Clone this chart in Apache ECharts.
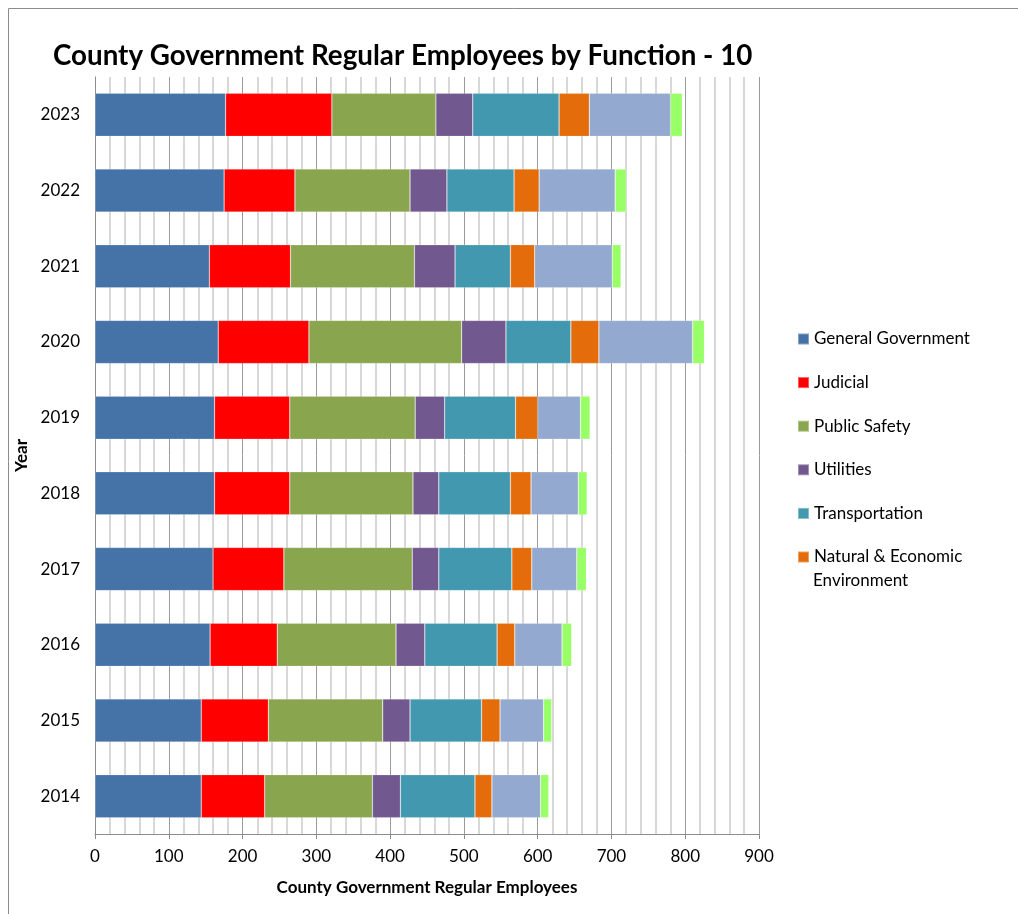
<!DOCTYPE html>
<html>
<head>
<meta charset="utf-8">
<script src="https://cdn.jsdelivr.net/npm/echarts@6/dist/echarts.min.js"></script>
<style>
  html, body { margin: 0; padding: 0; background: #ffffff; }
  #chart { width: 1018px; height: 914px; }
</style>
</head>
<body>
<div id="chart"></div>
<script>
// Regular employees per county function, 2014-2023
const years = ['2014', '2015', '2016', '2017', '2018', '2019', '2020', '2021', '2022', '2023'];

const generalGovernment = [144, 144, 156, 160, 162, 162, 167, 155, 175, 177];
const judicial          = [ 86,  91,  91,  96, 102, 102, 123, 110,  96, 144];
const publicSafety      = [146, 155, 161, 174, 167, 170, 207, 168, 156, 141];
const utilities         = [ 38,  37,  39,  36,  35,  40,  60,  55,  50,  50];
const transportation    = [101,  97,  98,  99,  97,  96,  88,  75,  91, 117];
const naturalEconomic   = [ 23,  25,  24,  27,  28,  30,  38,  33,  34,  41];
const cultureRecreation = [ 66,  59,  64,  61,  64,  58, 127, 105, 103, 110];
const humanServices     = [ 11,  11,  13,  13,  12,  13,  16,  12,  15,  16];

const xTicks = [0, 100, 200, 300, 400, 500, 600, 700, 800, 900];

const seriesDefs = [
  { name: 'General Government', data: generalGovernment, color: '#4572A7' },
  { name: 'Judicial', data: judicial, color: '#FF0000' },
  { name: 'Public Safety', data: publicSafety, color: '#89A54E' },
  { name: 'Utilities', data: utilities, color: '#71588F' },
  { name: 'Transportation', data: transportation, color: '#4198AF' },
  { name: 'Natural & Economic Environment', data: naturalEconomic, color: '#E46C0A' },
  { name: 'Culture & Recreation', data: cultureRecreation, color: '#93A9CF' },
  { name: 'Human Services', data: humanServices, color: '#99FF66' }
];

const FONT = 'Lato, "Open Sans", sans-serif';
const WRAPPED = 'Natural & Economic Environment';

const chart = echarts.init(document.getElementById('chart'), null, { renderer: 'canvas' });

chart.setOption({
  backgroundColor: '#ffffff',
  animation: false,
  title: {
    text: 'County Government Regular Employees by Function - 10',
    left: 48,
    top: 37,
    textStyle: { fontFamily: FONT, fontSize: 27.75, fontWeight: 'bold', color: '#000000' }
  },
  graphic: [
    { type: 'line', shape: { x1: 8.5, y1: 8.5, x2: 1018, y2: 8.5 }, style: { stroke: '#8c8c8c', lineWidth: 1 } },
    { type: 'line', shape: { x1: 8.5, y1: 8.5, x2: 8.5, y2: 914 }, style: { stroke: '#8c8c8c', lineWidth: 1 } },
    // second line of the wrapped legend entry, so its swatch stays beside the first line
    {
      type: 'text', left: 813, top: 569,
      style: { text: 'Environment', fontFamily: FONT, fontSize: 17, fill: '#000000', lineHeight: 23 }
    }
  ],
  legend: {
    data: seriesDefs.slice(0, 6).map(s => s.name),
    orient: 'vertical',
    left: 797,
    top: 327.5,
    padding: 0,
    itemWidth: 11,
    itemHeight: 11,
    itemGap: 20.6,
    icon: 'rect',
    formatter: name => name === WRAPPED ? 'Natural & Economic' : name,
    textStyle: { fontFamily: FONT, fontSize: 17, color: '#000000', lineHeight: 23 }
  },
  grid: { left: 95, right: 259, top: 77, bottom: 80, containLabel: false },
  xAxis: {
    type: 'value',
    min: xTicks[0],
    max: xTicks[xTicks.length - 1],
    interval: 100,
    name: 'County Government Regular Employees',
    nameLocation: 'middle',
    nameGap: 45,
    nameTextStyle: { fontFamily: FONT, fontSize: 17, fontWeight: 'bold', color: '#000000' },
    axisLine: { show: true, lineStyle: { color: '#8c8c8c', width: 1 } },
    axisTick: { show: true, length: 5, lineStyle: { color: '#8c8c8c' } },
    axisLabel: { fontFamily: FONT, fontSize: 17, color: '#000000', margin: 14 },
    splitLine: { show: true, lineStyle: { color: '#9a9a9a', width: 1 } },
    minorTick: { show: false, splitNumber: 5 },
    minorSplitLine: { show: true, lineStyle: { color: '#cccccc', width: 1.5 } }
  },
  yAxis: {
    type: 'category',
    data: years,
    name: 'Year',
    nameLocation: 'middle',
    nameGap: 64,
    nameRotate: 90,
    nameTextStyle: { fontFamily: FONT, fontSize: 17, fontWeight: 'bold', color: '#000000' },
    axisLine: { show: true, lineStyle: { color: '#8c8c8c', width: 1 } },
    axisTick: { show: false },
    axisLabel: { fontFamily: FONT, fontSize: 17, color: '#000000', margin: 15 },
    splitLine: { show: false }
  },
  series: seriesDefs.map(s => ({
    name: s.name,
    type: 'bar',
    stack: 'total',
    data: s.data,
    barCategoryGap: '43%',
    itemStyle: { color: s.color, borderColor: 'rgba(255,255,255,0.35)', borderWidth: 0.6 }
  }))
});
</script>
</body>
</html>
